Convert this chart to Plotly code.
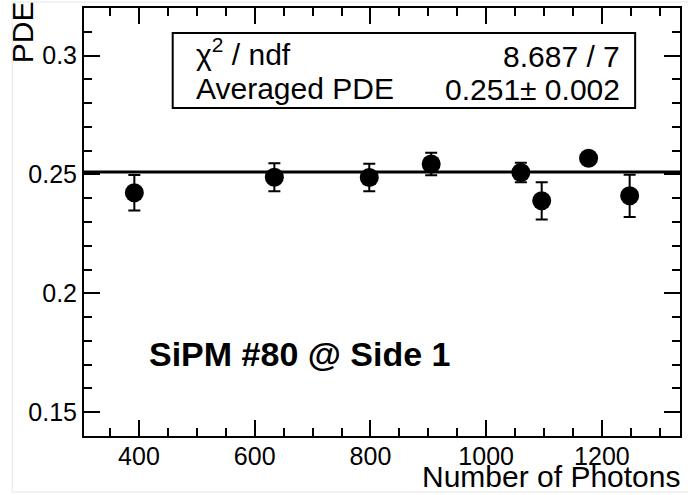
import plotly.graph_objects as go

# Data
n_photons = [392, 634, 798, 905, 1060, 1096, 1177, 1248]
pde = [0.2423, 0.2488, 0.2487, 0.2544, 0.2508, 0.2389, 0.2568, 0.2410]
pde_err = [0.0075, 0.0059, 0.0058, 0.0047, 0.0041, 0.0078, 0.0015, 0.0089]
fit_value = 0.251
x_range = [305, 1335]
y_range = [0.14, 0.32]
x_ticks = [400, 600, 800, 1000, 1200]
y_ticks = [0.15, 0.2, 0.25, 0.3]
y_ticklabels = ["0.15", "0.2", "0.25", "0.3"]

chi2_text = "8.687 / 7"
avg_text = "0.251± 0.002"

FONT = "Liberation Sans, Arial, Helvetica, sans-serif"

fig = go.Figure()

fig.add_trace(go.Scatter(
    x=x_range, y=[fit_value, fit_value], mode="lines",
    line=dict(color="black", width=3), showlegend=False, hoverinfo="skip"))

fig.add_trace(go.Scatter(
    x=n_photons, y=pde, mode="markers",
    marker=dict(color="black", size=19, symbol="circle"),
    error_y=dict(type="data", array=pde_err, visible=True,
                 color="black", thickness=2, width=6),
    showlegend=False))

# layout geometry (pixels)
W, H = 688, 495
L, R, T, B = 84, 6, 8, 59
pw, ph = W - L - R, H - T - B

def px(x):
    return (x - L) / pw

def py(y):
    return 1 - (y - T) / ph

axis_common = dict(
    showgrid=False, zeroline=False,
    showline=True, linecolor="black", linewidth=2, mirror="allticks",
    ticks="inside", tickcolor="black", tickwidth=2, ticklen=16,
    tickfont=dict(family=FONT, size=25, color="black"),
)

fig.update_xaxes(range=x_range, tickmode="array", tickvals=x_ticks,
                 ticklabelstandoff=-3,
                 minor=dict(ticks="inside", ticklen=8, tickwidth=2,
                            tickcolor="black", dtick=50, tick0=0),
                 **axis_common)
fig.update_yaxes(range=y_range, tickmode="array", tickvals=y_ticks,
                 ticktext=y_ticklabels,
                 minor=dict(ticks="inside", ticklen=8, tickwidth=2,
                            tickcolor="black", dtick=0.01, tick0=0),
                 **axis_common)

shapes = [
    dict(type="rect", xref="paper", yref="paper",
         x0=px(12), x1=px(700), y0=py(492), y1=py(2),
         line=dict(color="#e6e6e6", width=1), fillcolor="rgba(0,0,0,0)",
         layer="below"),
    dict(type="rect", xref="paper", yref="paper",
         x0=px(173), x1=px(637), y0=py(108), y1=py(33),
         line=dict(color="black", width=2), fillcolor="white",
         layer="above"),
]

annotations = [
    dict(text="χ<sup>2</sup> / ndf", x=px(194), y=py(52), xanchor="left",
         yanchor="middle", font=dict(family=FONT, size=30, color="black")),
    dict(text=chi2_text, x=px(624), y=py(56), xanchor="right",
         yanchor="middle", font=dict(family=FONT, size=30, color="black")),
    dict(text="Averaged PDE", x=px(194), y=py(88), xanchor="left",
         yanchor="middle", font=dict(family=FONT, size=30, color="black")),
    dict(text=avg_text, x=px(624), y=py(90), xanchor="right",
         yanchor="middle", font=dict(family=FONT, size=30, color="black")),
    dict(text="<b>SiPM #80 @ Side 1</b>", x=px(147), y=py(354),
         xanchor="left", yanchor="middle",
         font=dict(family=FONT, size=34, color="black")),
    dict(text="Number of Photons", x=px(684), y=py(476), xanchor="right",
         yanchor="middle", font=dict(family=FONT, size=30, color="black")),
    dict(text="PDE", x=px(22), y=py(-1), xanchor="center", yanchor="top",
         textangle=-90, font=dict(family=FONT, size=30, color="black")),
]
for a in annotations:
    a.update(xref="paper", yref="paper", showarrow=False)

fig.update_layout(
    width=W, height=H,
    margin=dict(l=L, r=R, t=T, b=B),
    paper_bgcolor="white", plot_bgcolor="white",
    shapes=shapes, annotations=annotations,
    font=dict(family=FONT, color="black"),
)

fig.write_html("out.html",
               config={"displayModeBar": False},
               post_script="document.body.style.margin='0';"
                           "document.body.style.overflow='hidden';")
